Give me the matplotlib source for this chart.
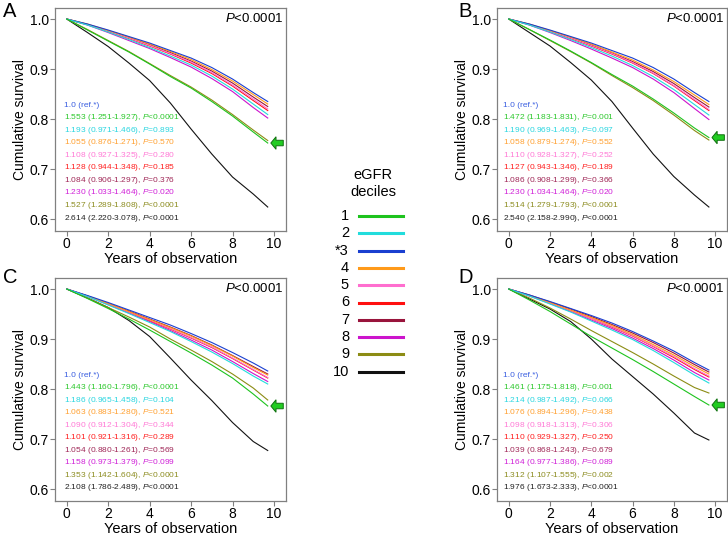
import matplotlib
matplotlib.use('Agg')
import matplotlib.pyplot as plt
from matplotlib.patches import FancyArrow
from matplotlib.lines import Line2D

plt.rcParams['font.family'] = ['Liberation Sans', 'DejaVu Sans']
plt.rcParams['mathtext.fontset'] = 'custom'
plt.rcParams['mathtext.rm'] = 'Liberation Sans'
plt.rcParams['mathtext.it'] = 'Liberation Sans:italic'

years = [0, 1, 2, 3, 4, 5, 6, 7, 8, 9, 9.7]
deciles = ['1', '2', '*3', '4', '5', '6', '7', '8', '9', '10']
colors = ['#1ec31e', '#22dcdc', '#1a3fd0', '#ff9a1a', '#ff6ecf',
          '#ff1010', '#99143c', '#cc14cc', '#8c8c14', '#111111']
text_colors = ['#2cc82c', '#2ad6e0', '#3a5ee0', '#ffa030', '#ff7ad6',
               '#ff2020', '#a02858', '#d020d8', '#8c8c20', '#222222']

# cumulative survival, deciles 1..10 (rows) per panel
surv_a = [
    [1, .978, .956, .934, .910, .885, .862, .835, .806, .774, .752],
    [1, .988, .974, .959, .943, .926, .908, .886, .860, .830, .809],
    [1, .990, .978, .965, .952, .937, .922, .903, .880, .853, .835],
    [1, .990, .977, .964, .950, .935, .919, .899, .876, .849, .830],
    [1, .989, .976, .962, .947, .931, .914, .893, .868, .840, .820],
    [1, .989, .975, .961, .946, .930, .912, .891, .866, .837, .817],
    [1, .989, .976, .963, .949, .933, .916, .896, .872, .844, .825],
    [1, .988, .973, .957, .941, .923, .904, .881, .855, .823, .802],
    [1, .979, .957, .935, .911, .887, .864, .838, .809, .778, .757],
    [1, .973, .945, .912, .877, .832, .780, .730, .684, .650, .624],
]
surv_b = [
    [1, .979, .958, .936, .913, .889, .866, .840, .812, .782, .763],
    [1, .988, .974, .959, .943, .926, .907, .885, .859, .829, .808],
    [1, .990, .978, .965, .952, .937, .922, .903, .880, .853, .835],
    [1, .990, .977, .964, .950, .934, .918, .898, .875, .848, .829],
    [1, .989, .976, .962, .947, .931, .913, .892, .867, .839, .819],
    [1, .989, .975, .961, .946, .930, .912, .891, .866, .837, .817],
    [1, .989, .976, .963, .948, .932, .915, .895, .871, .843, .824],
    [1, .988, .973, .957, .940, .922, .903, .880, .853, .821, .799],
    [1, .979, .957, .935, .912, .887, .863, .837, .808, .777, .758],
    [1, .973, .946, .913, .878, .835, .782, .730, .685, .648, .624],
]
surv_c = [
    [1, .981, .961, .940, .918, .895, .872, .848, .822, .790, .766],
    [1, .985, .968, .951, .933, .915, .895, .874, .851, .826, .810],
    [1, .987, .973, .958, .943, .928, .911, .893, .873, .852, .836],
    [1, .986, .971, .955, .939, .923, .906, .887, .866, .843, .828],
    [1, .986, .970, .954, .938, .921, .903, .884, .862, .839, .823],
    [1, .986, .970, .954, .937, .920, .902, .883, .861, .838, .822],
    [1, .986, .971, .956, .940, .924, .907, .888, .867, .845, .830],
    [1, .985, .969, .952, .935, .917, .898, .878, .855, .831, .815],
    [1, .982, .963, .944, .924, .900, .878, .855, .830, .802, .778],
    [1, .982, .963, .937, .905, .862, .818, .777, .733, .695, .677],
]
surv_d = [
    [1, .978, .955, .930, .905, .882, .859, .835, .810, .785, .768],
    [1, .986, .970, .954, .936, .918, .899, .877, .853, .828, .812],
    [1, .988, .975, .961, .947, .932, .915, .896, .876, .853, .838],
    [1, .987, .973, .958, .943, .927, .909, .889, .868, .845, .830],
    [1, .987, .972, .957, .941, .925, .907, .886, .865, .841, .826],
    [1, .987, .972, .957, .941, .924, .906, .885, .863, .839, .824],
    [1, .988, .974, .960, .945, .929, .912, .893, .872, .849, .834],
    [1, .986, .971, .955, .938, .921, .902, .881, .858, .833, .818],
    [1, .982, .962, .940, .917, .895, .873, .850, .826, .803, .792],
    [1, .980, .960, .935, .900, .860, .825, .790, .752, .712, .698],
]

# hazard ratio (95% CI), P, deciles 1..10
hr_a = ['1.553 (1.251-1.927), $P$<0.0001', '1.193 (0.971-1.466), $P$=0.893',
        '1.0 (ref.*)', '1.055 (0.876-1.271), $P$=0.570',
        '1.108 (0.927-1.325), $P$=0.280', '1.128 (0.944-1.348), $P$=0.185',
        '1.084 (0.906-1.297), $P$=0.376', '1.230 (1.033-1.464), $P$=0.020',
        '1.527 (1.289-1.808), $P$<0.0001', '2.614 (2.220-3.078), $P$<0.0001']
hr_b = ['1.472 (1.183-1.831), $P$=0.001', '1.190 (0.969-1.463), $P$=0.097',
        '1.0 (ref.*)', '1.058 (0.879-1.274), $P$=0.552',
        '1.110 (0.928-1.327), $P$=0.252', '1.127 (0.943-1.346), $P$=0.189',
        '1.086 (0.908-1.299), $P$=0.366', '1.230 (1.034-1.464), $P$=0.020',
        '1.514 (1.279-1.793), $P$<0.0001', '2.540 (2.158-2.990), $P$<0.0001']
hr_c = ['1.443 (1.160-1.796), $P$<0.0001', '1.186 (0.965-1.458), $P$=0.104',
        '1.0 (ref.*)', '1.063 (0.883-1.280), $P$=0.521',
        '1.090 (0.912-1.304), $P$=0.344', '1.101 (0.921-1.316), $P$=0.289',
        '1.054 (0.880-1.261), $P$=0.569', '1.158 (0.973-1.379), $P$=0.099',
        '1.353 (1.142-1.604), $P$<0.0001', '2.108 (1.786-2.489), $P$<0.0001']
hr_d = ['1.461 (1.175-1.818), $P$=0.001', '1.214 (0.987-1.492), $P$=0.066',
        '1.0 (ref.*)', '1.076 (0.894-1.296), $P$=0.438',
        '1.098 (0.918-1.313), $P$=0.306', '1.110 (0.929-1.327), $P$=0.250',
        '1.039 (0.868-1.243), $P$=0.679', '1.164 (0.977-1.386), $P$=0.089',
        '1.312 (1.107-1.555), $P$=0.002', '1.976 (1.673-2.333), $P$<0.0001']

panels = [('A', surv_a, hr_a), ('B', surv_b, hr_b), ('C', surv_c, hr_c), ('D', surv_d, hr_d)]
boxes = [[0.0755, 0.569, 0.3173, 0.416], [0.6827, 0.569, 0.316, 0.416],
         [0.0755, 0.0653, 0.3173, 0.416], [0.6827, 0.0653, 0.316, 0.416]]
label_pos = [(0.004, 0.997), (0.630, 0.997), (0.004, 0.5), (0.630, 0.5)]
text_x = [0.039, 0.026, 0.039, 0.026]
text_order = [2, 0, 1, 3, 4, 5, 6, 7, 8, 9]

fig = plt.figure(figsize=(7.28, 5.36), dpi=100)

for k, (name, surv, hr) in enumerate(panels):
    ax = fig.add_axes(boxes[k])
    for i in range(9, -1, -1):
        ax.plot(years, surv[i], color=colors[i], lw=0.8)
    ax.set_xlim(-0.57, 10.58)
    ax.set_ylim(0.576, 1.022)
    ax.set_xticks([0, 2, 4, 6, 8, 10])
    ax.set_yticks([0.6, 0.7, 0.8, 0.9, 1.0])
    ax.set_yticklabels(['0.6', '0.7', '0.8', '0.9', '1.0'])
    ax.tick_params(direction='out', length=3.5, width=0.8, color='#808080',
                   labelsize=10, pad=1)
    for sp in ax.spines.values():
        sp.set_color('#808080')
        sp.set_linewidth(0.9)
    ax.set_xlabel('Years of observation', fontsize=10.5, labelpad=0.5)
    ax.set_ylabel('Cumulative survival', fontsize=10, labelpad=2)
    ax.text(0.99, 0.955, '$P$<0.0001', transform=ax.transAxes,
            ha='right', va='center', fontsize=9.5)
    for j, i in enumerate(text_order):
        ax.text(text_x[k], 0.565 - j * 0.0563, hr[i], transform=ax.transAxes,
                ha='left', va='center', fontsize=6, color=text_colors[i])
    # green arrow at end of decile 1 curve
    ax.add_patch(FancyArrow(10.45, surv[0][-1], -0.6, 0, width=0.011,
                            head_width=0.025, head_length=0.25,
                            length_includes_head=True, fc='#22cc22',
                            ec='#107010', lw=0.7, clip_on=False))
    fig.text(label_pos[k][0], label_pos[k][1], name, fontsize=14.5,
             ha='left', va='top')

# central legend
W, H = 728.0, 536.0
fig.text(373 / W, 1 - 175 / H, 'eGFR', ha='center', va='center', fontsize=10.5)
fig.text(373 / W, 1 - 192 / H, 'deciles', ha='center', va='center', fontsize=10.5)
for i, d in enumerate(deciles):
    y = 1 - (216 + 17.3 * i) / H
    fig.text(349 / W, y, d, ha='right', va='center', fontsize=10.5)
    fig.add_artist(Line2D([359 / W, 403 / W], [y, y], color=colors[i], lw=2.2,
                          transform=fig.transFigure))

fig.savefig('out.png', dpi=100)
